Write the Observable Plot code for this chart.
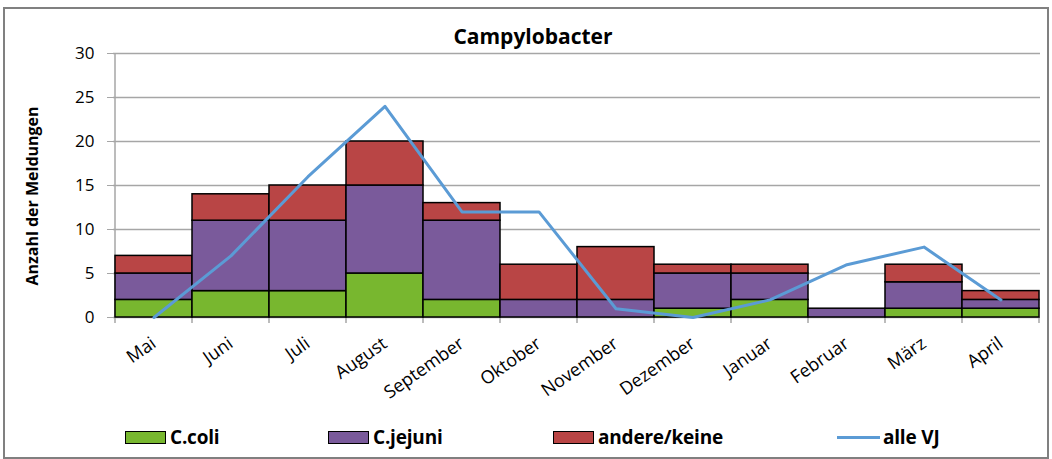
<!DOCTYPE html>
<html><head><meta charset="utf-8">
<script src="https://cdn.jsdelivr.net/npm/d3@7"></script>
<script src="https://cdn.jsdelivr.net/npm/@observablehq/plot@0.6"></script>
<style>
body{margin:0;background:#fff;font-family:"Open Sans",sans-serif;}
#wrap{position:relative;width:1052px;height:459px;overflow:hidden;}
#frame{position:absolute;left:3px;top:7px;width:1042px;height:448px;border:2px solid #808080;}
#title{position:absolute;left:0;width:1066px;top:22px;text-align:center;font-weight:bold;font-size:21px;}
#ylab{position:absolute;left:32px;top:196px;transform:translate(-50%,-50%) rotate(-90deg);font-weight:bold;font-size:16px;white-space:nowrap;}
.lg{position:absolute;top:424px;font-weight:bold;font-size:19px;display:flex;align-items:center;letter-spacing:-0.2px;}
.sw{width:39px;height:11px;border:1.5px solid #000;margin-right:4px;}
.ln{width:43px;height:3px;margin-right:3px;}
#chart{position:absolute;left:0;top:0;}
</style></head>
<body><div id="wrap"><div id="frame"></div><div id="chart"></div><div id="title">Campylobacter</div><div id="ylab">Anzahl der Meldungen</div><div id="legend"></div></div>
<script>
const months = ["Mai","Juni","Juli","August","September","Oktober","November","Dezember","Januar","Februar","März","April"];
const coli   = [2,3,3,5,2,0,0,1,2,0,1,1];
const jejuni = [3,8,8,10,9,2,2,4,3,1,3,1];
const andere = [2,3,4,5,2,4,6,1,1,0,2,1];
const alleVJ = [0,7,16,24,12,12,1,0,2,6,8,2];
const seriesNames = ["C.coli","C.jejuni","andere/keine"];
const seriesColors = ["#78b72f","#7a5a9b","#b94545"];
const lineName = "alle VJ";
const lineColor = "#5b9bd5";
const yTicks = [0,5,10,15,20,25,30];

const rows = [];
months.forEach((m,i)=>{
  [coli,jejuni,andere].forEach((arr,j)=>rows.push({month:m, series:seriesNames[j], value:arr[i]}));
});
const lineData = months.map((m,i)=>({month:m, value:alleVJ[i]}));

const plot = Plot.plot({
  width:1052, height:420,
  marginLeft:113, marginRight:12, marginTop:53, marginBottom:103,
  style:{fontFamily:"Open Sans, sans-serif", fontSize:"16px", color:"#000", overflow:"visible"},
  x:{domain:months, padding:0, label:null},
  y:{domain:[0,30], label:null},
  color:{domain:seriesNames, range:seriesColors},
  marks:[
    Plot.gridY(yTicks,{stroke:"#a6a6a6", strokeOpacity:1, strokeWidth:1.5}),
    Plot.axisY(yTicks,{tickSize:6, tickPadding:13, stroke:"#a6a6a6", fontSize:17, fill:"#000"}),
    Plot.barY(rows, Plot.stackY({x:"month", y:"value", fill:"series", order:seriesNames, stroke:"#000", strokeWidth:1.5})),
    Plot.lineY(lineData,{x:"month", y:"value", stroke:lineColor, strokeWidth:3}),
    Plot.axisX({tickSize:0, tickRotate:-35, tickPadding:24, fontSize:18, fill:"#000"})
  ]
});
document.getElementById("chart").appendChild(plot);

// axis lines and boundary tick marks, positioned via the plot's own scales
const xs = plot.scale("x");
const ys = plot.scale("y");
const svg = d3.select(plot);
const bw = xs.bandwidth;
const y0 = ys.apply(0);
const xL = xs.apply(months[0]);
const xR = xs.apply(months[months.length-1])+bw;
const bounds = months.map(m=>xs.apply(m)).concat([xR]);
const g = svg.append("g");
g.selectAll("line.t").data(bounds).join("line").attr("class","t")
  .attr("x1",d=>d).attr("x2",d=>d).attr("y1",y0).attr("y2",y0+6)
  .attr("stroke","#a6a6a6").attr("stroke-width",1.5);
g.append("line").attr("x1",xL).attr("x2",xR).attr("y1",y0).attr("y2",y0)
  .attr("stroke","#a6a6a6").attr("stroke-width",1.5);
g.append("line").attr("x1",xL).attr("x2",xL).attr("y1",ys.apply(30)).attr("y2",y0)
  .attr("stroke","#a6a6a6").attr("stroke-width",1.5);
g.lower();
svg.selectAll("g[aria-label='y-grid']").lower();

// legend
const lg = document.getElementById("legend");
const lgX = [125,328,553,837];
seriesNames.forEach((n,i)=>{
  const d = document.createElement("div"); d.className="lg"; d.style.left=lgX[i]+"px";
  d.innerHTML = `<span class="sw" style="background:${seriesColors[i]}"></span>${n}`;
  lg.appendChild(d);
});
const dl = document.createElement("div"); dl.className="lg"; dl.style.left=lgX[3]+"px";
dl.innerHTML = `<span class="ln" style="background:${lineColor}"></span>${lineName}`;
lg.appendChild(dl);
</script></body></html>
